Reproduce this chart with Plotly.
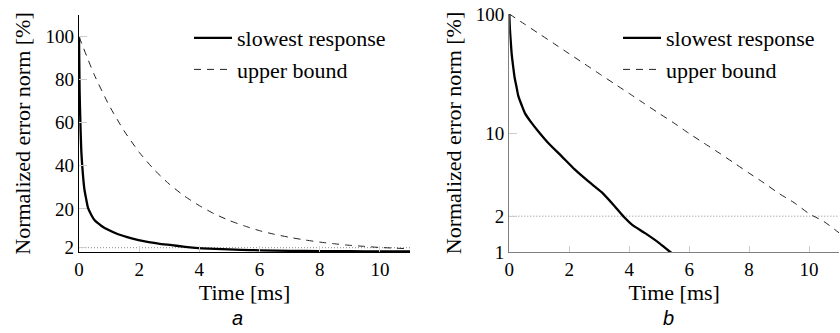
import plotly.graph_objects as go

# ---- data ----
t_slow = [0, 0.02, 0.05, 0.08, 0.13, 0.18, 0.24, 0.30, 0.41, 0.52, 0.75, 0.97, 1.30, 1.75,
          2.19, 2.64, 3.08, 3.53, 3.86, 4.09, 4.53, 4.98, 5.37, 6, 7, 8, 9, 10, 11]
y_slow = [100, 75, 58, 46, 36, 29, 24.5, 20.5, 17.2, 14.7, 12.1, 10.3, 8.24, 6.36,
          4.92, 3.92, 3.18, 2.40, 1.93, 1.70, 1.44, 1.20, 1.0, 0.8, 0.56, 0.42, 0.34, 0.28, 0.24]

t_bound = [0, 0.5, 1, 1.5, 2, 2.5, 3, 3.5, 4, 4.5, 5, 5.5, 6, 6.5, 7, 7.5, 8, 8.5, 9, 9.5,
           10, 10.5, 11]
y_bound = [100, 82.5, 68.1, 56.2, 46.3, 38.2, 31.5, 26.0, 21.5, 17.7, 14.6, 12.1, 9.9, 8.2,
           6.8, 5.6, 4.6, 3.8, 3.1, 2.6, 2.1, 1.8, 1.45]

t_thresh = [0, 11]
y_thresh = [2, 2]

x_ticks = [0, 2, 4, 6, 8, 10]
y_ticks_lin = [2, 20, 40, 60, 80, 100]
y_ticks_log = [1, 2, 10, 100]

SERIF = "Liberation Serif, Times New Roman, serif"
W, H = 840, 333

fig = go.Figure()

for xa, ya, leg in (("x", "y", "legend"), ("x2", "y2", "legend2")):
    fig.add_trace(go.Scatter(x=t_thresh, y=y_thresh, mode="lines", xaxis=xa, yaxis=ya,
                             line=dict(color="#8a8a8a", width=1, dash="1px,2px"),
                             showlegend=False, hoverinfo="skip"))
    fig.add_trace(go.Scatter(x=t_slow, y=y_slow, mode="lines", name="slowest response",
                             xaxis=xa, yaxis=ya, legend=leg,
                             line=dict(color="black", width=2.3, shape="spline", smoothing=0.6)))
    fig.add_trace(go.Scatter(x=t_bound, y=y_bound, mode="lines", name="upper bound",
                             xaxis=xa, yaxis=ya, legend=leg,
                             line=dict(color="#222222", width=1, dash="7px,6px", shape="spline",
                                       smoothing=0.6)))

def px_x(p):
    return p / W

def px_y(p):
    return (H - p) / H

tick_font = dict(family=SERIF, size=19, color="black")
title_font = dict(family=SERIF, size=22, color="black")

common_x = dict(range=[0, 11], tickvals=x_ticks, ticks="inside", ticklen=6, tickcolor="#cccccc",
                showgrid=False, zeroline=False, showline=True, linewidth=1.3, automargin=False,
                tickfont=tick_font, title=dict(text="Time [ms]", font=title_font, standoff=2))
common_y = dict(ticks="inside", ticklen=8, tickcolor="#cccccc", showgrid=False, zeroline=False,
                showline=True, linewidth=1.3, tickfont=tick_font, automargin=False,
                title=dict(text="Normalized error norm [%]", font=title_font, standoff=8))

fig.update_layout(
    width=W, height=H, margin=dict(l=0, r=0, t=0, b=0, autoexpand=False),
    paper_bgcolor="white", plot_bgcolor="white",
    xaxis=dict(domain=[px_x(79), px_x(410)], anchor="y", linecolor="black", **common_x),
    yaxis=dict(domain=[px_y(252), px_y(15)], anchor="x", range=[0, 110], tickvals=y_ticks_lin,
               linecolor="black", **common_y),
    xaxis2=dict(domain=[px_x(509.3), px_x(839)], anchor="y2", linecolor="#808080", **common_x),
    yaxis2=dict(domain=[px_y(252), px_y(14)], anchor="x2", type="log", range=[0, 2],
                tickvals=y_ticks_log, ticktext=[str(v) for v in y_ticks_log],
                linecolor="#808080", **common_y),
    legend=dict(x=px_x(189), y=px_y(17), xanchor="left", yanchor="top",
                bgcolor="rgba(0,0,0,0)", font=dict(family=SERIF, size=22, color="black"),
                itemwidth=38, tracegroupgap=0),
    legend2=dict(x=px_x(618), y=px_y(17), xanchor="left", yanchor="top",
                 bgcolor="rgba(0,0,0,0)", font=dict(family=SERIF, size=22, color="black"),
                 itemwidth=38, tracegroupgap=0),
    annotations=[
        dict(text="<i>a</i>", x=px_x(237), y=px_y(318), xref="paper", yref="paper",
             showarrow=False, font=dict(family="Liberation Sans, Arial, sans-serif", size=20,
                                        color="black"),
             xanchor="center", yanchor="middle"),
        dict(text="<i>b</i>", x=px_x(668), y=px_y(318), xref="paper", yref="paper",
             showarrow=False, font=dict(family="Liberation Sans, Arial, sans-serif", size=20,
                                        color="black"),
             xanchor="center", yanchor="middle"),
    ],
)

fig.write_html("out.html", config={"displayModeBar": False},
               post_script="document.body.style.margin='0';document.body.style.padding='0';")
